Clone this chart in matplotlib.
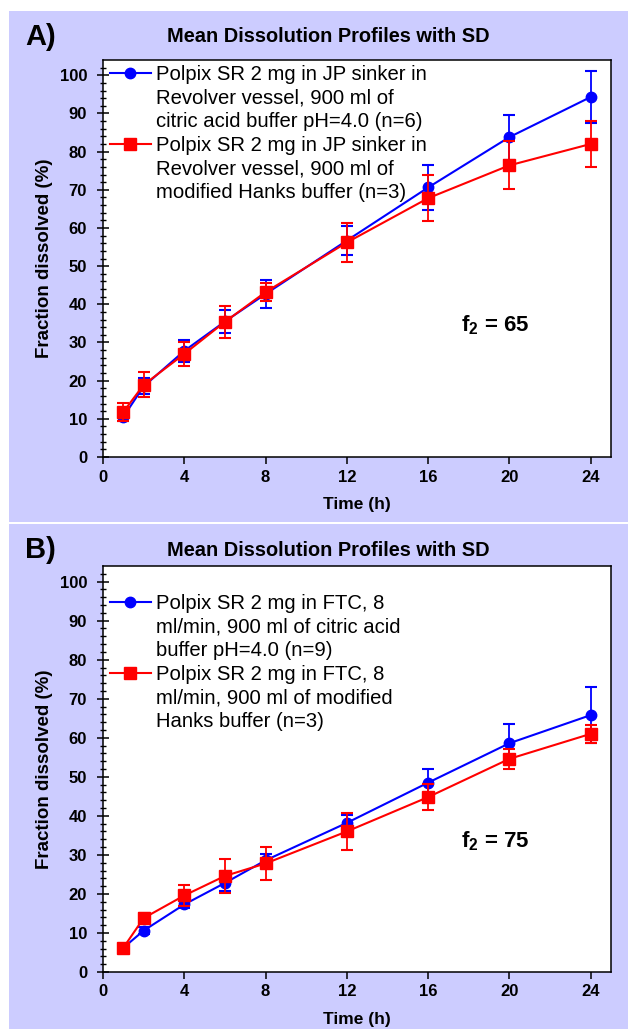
import matplotlib as mpl
import matplotlib.pyplot as plt
import matplotlib.patches as mpatches
from matplotlib.lines import Line2D
import numpy as np

mpl.rcParams.update(
    {
        "font.family": ["Liberation Sans", "DejaVu Sans"],
        "mathtext.fontset": "custom",
        "mathtext.rm": "Liberation Sans",
        "mathtext.bf": "Liberation Sans:bold",
        "axes.linewidth": 1.1,
    }
)

BG = "#CCCCFF"
BLUE = "#0000FF"
RED = "#FF0000"

time_h = [1, 2, 4, 6, 8, 12, 16, 20, 24]

# panel A: JP sinker in Revolver vessel
a_citric = [10.5, 18.5, 27.8, 35.5, 42.7, 56.7, 70.6, 83.8, 94.3]
a_citric_sd = [1.0, 2.1, 2.9, 3.1, 3.6, 3.8, 5.8, 5.9, 6.9]
a_hanks = [11.8, 18.9, 27.0, 35.4, 43.2, 56.2, 67.8, 76.4, 82.0]
a_hanks_sd = [2.4, 3.3, 3.2, 4.2, 2.4, 5.0, 6.1, 6.3, 6.0]

# panel B: FTC, 8 ml/min
b_citric = [6.2, 10.6, 17.3, 22.8, 28.6, 38.2, 48.5, 58.6, 65.8]
b_citric_sd = [0.5, 0.8, 1.0, 2.0, 1.5, 2.0, 3.5, 4.8, 7.2]
b_hanks = [6.2, 13.8, 19.6, 24.6, 27.8, 36.0, 44.8, 54.6, 61.0]
b_hanks_sd = [0.5, 1.2, 2.7, 4.4, 4.3, 4.7, 3.4, 2.5, 2.3]

panels = [
    dict(
        tag="A)",
        citric=a_citric, citric_sd=a_citric_sd,
        hanks=a_hanks, hanks_sd=a_hanks_sd,
        lab_citric=["Polpix SR 2 mg in JP sinker in", "Revolver vessel, 900 ml of",
                    "citric acid buffer pH=4.0 (n=6)"],
        lab_hanks=["Polpix SR 2 mg in JP sinker in", "Revolver vessel, 900 ml of",
                   "modified Hanks buffer (n=3)"],
        f2="65", f2_y=34.5,
    ),
    dict(
        tag="B)",
        citric=b_citric, citric_sd=b_citric_sd,
        hanks=b_hanks, hanks_sd=b_hanks_sd,
        lab_citric=["Polpix SR 2 mg in FTC, 8", "ml/min, 900 ml of citric acid",
                    "buffer pH=4.0 (n=9)"],
        lab_hanks=["Polpix SR 2 mg in FTC, 8", "ml/min, 900 ml of modified",
                   "Hanks buffer (n=3)"],
        f2="75", f2_y=33.5,
    ),
]

W, H = 628, 1029
fig = plt.figure(figsize=(W / 100, H / 100), dpi=100, facecolor="white")

# lavender panel backgrounds (pixel boxes: x0, y_top, y_bottom)
bg_boxes = [(9, 11, 522), (9, 524, 1029)]
for x0, yt, yb in bg_boxes:
    fig.patches.append(
        mpatches.Rectangle((x0 / W, 1 - yb / H), 1 - x0 / W, (yb - yt) / H,
                           transform=fig.transFigure, facecolor=BG, edgecolor="none", zorder=-5)
    )

# axes boxes in pixels: left, right, top, bottom
ax_boxes = [(103, 611, 60, 457), (103, 611, 566, 972)]
title_y = [37, 550]
leg_top = [65, 594]

for p, (l, r, t, b), ty, lt in zip(panels, ax_boxes, title_y, leg_top):
    ax = fig.add_axes([l / W, 1 - b / H, (r - l) / W, (b - t) / H])
    ax.set_zorder(2)
    ax.set_facecolor("white")

    ax.errorbar(time_h, p["citric"], yerr=p["citric_sd"], fmt="none", ecolor=BLUE,
                elinewidth=1.3, capsize=4, capthick=1.5, zorder=3)
    h_cit, = ax.plot(time_h, p["citric"], "-o", color=BLUE, lw=1.5, ms=7.5, mec=BLUE, zorder=4)
    ax.errorbar(time_h, p["hanks"], yerr=p["hanks_sd"], fmt="none", ecolor=RED,
                elinewidth=1.3, capsize=4, capthick=1.5, zorder=5)
    h_han, = ax.plot(time_h, p["hanks"], "-s", color=RED, lw=1.5, ms=8, mec=RED, zorder=6)

    ax.set_xlim(0, 25)
    ax.set_ylim(0, 104)
    ax.set_xticks(np.arange(0, 25, 4))
    ax.set_yticks(np.arange(0, 101, 10))
    ax.set_yticks(np.arange(0, 104, 2), minor=True)
    ax.tick_params(axis="x", direction="out", length=5, width=1.1, labelsize=12, pad=4)
    ax.tick_params(axis="y", which="major", direction="inout", length=8, width=1.1,
                   labelsize=12, pad=7.5)
    ax.tick_params(axis="y", which="minor", direction="inout", length=5, width=1.0)
    for lbl in ax.get_xticklabels() + ax.get_yticklabels():
        lbl.set_fontweight("bold")

    ax.set_xlabel("Time (h)", fontsize=12.5, fontweight="bold", labelpad=9)
    ax.set_ylabel("Fraction dissolved (%)", fontsize=13.5, fontweight="bold", labelpad=5)

    # one legend row per text line, handle on the first line of each entry
    blank = Line2D([], [], linestyle="none")
    handles = [h_cit, blank, blank, h_han, blank, blank]
    labels = p["lab_citric"] + p["lab_hanks"]
    ax.legend(handles, labels, loc="upper left",
              bbox_to_anchor=(0.014, 1 - (lt - t) / (b - t)),
              frameon=False, fontsize=14.6, handlelength=2.0, handletextpad=0.25,
              labelspacing=0.23, borderaxespad=0, borderpad=0, numpoints=1)

    ax.text(19.3, p["f2_y"], r"$\mathbf{f}_{\mathbf{2}}$" + " = " + p["f2"],
            fontsize=16, fontweight="bold", ha="center", va="center")

    fig.text(25 / W, 1 - ty / H, p["tag"], fontsize=21, fontweight="bold",
             ha="left", va="center")
    fig.text(328 / W, 1 - ty / H, "Mean Dissolution Profiles with SD",
             fontsize=14.4, fontweight="bold", ha="center", va="center")

fig.savefig("out.png", dpi=100, facecolor="white")
